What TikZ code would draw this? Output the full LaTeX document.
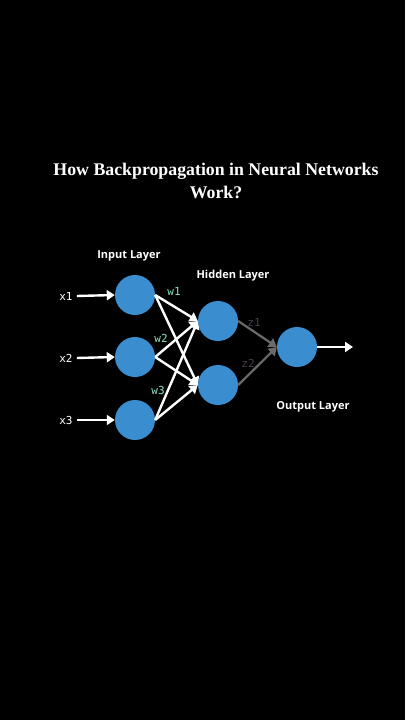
\documentclass[tikz,border=0pt]{standalone}
\usepackage{fontspec}
\setmainfont{Liberation Serif}
\setsansfont{Open Sans}
\setmonofont{DejaVu Sans Mono}
\usetikzlibrary{arrows.meta}

\definecolor{neuron}{HTML}{3A8ED0}
\definecolor{weight}{HTML}{8EE0C4}
\definecolor{zlabel}{HTML}{4A3C52}
\definecolor{zline}{HTML}{6A6A6A}

\begin{document}
\begin{tikzpicture}[x=1pt, y=-1pt,
    neuron/.style={circle, fill=neuron, minimum size=40pt, inner sep=0pt},
    arr/.style={white, line width=2.4pt, -{Triangle[length=8pt, width=10pt]}},
    garr/.style={zline, line width=2.2pt, -{Triangle[length=8pt, width=10pt]}},
    layer/.style={white, font=\sffamily\fontsize{11}{13}\selectfont\bfseries},
    invar/.style={white, font=\ttfamily\fontsize{11}{13}\selectfont, inner sep=4pt},
    wlab/.style={weight, font=\ttfamily\fontsize{11}{13}\selectfont},
    zlab/.style={zlabel, font=\ttfamily\fontsize{11}{13}\selectfont}]
    \fill[black] (0,0) rectangle (405,720);
    \useasboundingbox (0,0) rectangle (405,720);

    % title
    \node[white, font=\fontsize{17.8}{23}\selectfont\bfseries, align=center] (title) at (216,181)
        {How Backpropagation in Neural Networks\\Work?};

    % neurons
    \node[neuron] (in1) at (135,295) {};
    \node[neuron] (in2) at (135,357) {};
    \node[neuron] (in3) at (135,420) {};
    \node[neuron] (h1) at (218,321) {};
    \node[neuron] (h2) at (218,385) {};
    \node[neuron] (out) at (297,347) {};

    % layer names
    \node[layer] (inname) at (129,256) {Input Layer};
    \node[layer] (hidname) at (233,276) {Hidden Layer};
    \node[layer] (outname) at (313,407) {Output Layer};

    % inputs
    \node[invar] (x1) at (66,296) {x1};
    \node[invar] (x2) at (66,358) {x2};
    \node[invar] (x3) at (66,420) {x3};
    \foreach \i in {1,2,3}
        \draw[arr] (x\i.east) -- (in\i.west);

    % input to hidden
    \foreach \i in {1,2,3}
        \foreach \j in {1,2}
            \draw[arr] (in\i.east) -- (h\j.west);

    \node[wlab] (w1) at (174,291) {w1};
    \node[wlab] (w2) at (161,338) {w2};
    \node[wlab] (w3) at (158,390) {w3};

    % hidden to output
    \draw[garr] (h1.east) -- (out.west);
    \draw[garr] (h2.east) -- (out.west);
    \node[zlab] (z1) at (254,322) {z1};
    \node[zlab] (z2) at (248,363) {z2};

    \coordinate (y) at (353,347);
    \draw[arr] (out.east) -- (y);
\end{tikzpicture}
\end{document}
